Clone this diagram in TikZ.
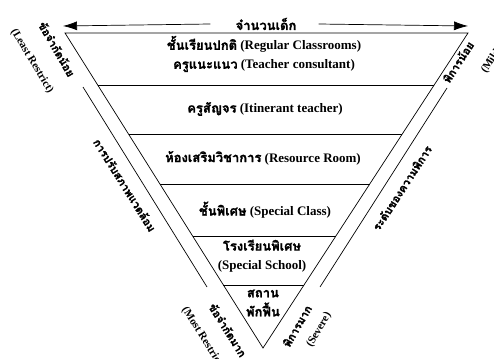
\documentclass[tikz,border=0pt]{standalone}
\usepackage{fontspec}
\setmainfont{Liberation Serif}
\newfontfamily\thaifont[Script=Thai,FakeBold=1.5]{Loma}
\usetikzlibrary{arrows.meta,calc}
\newcommand{\tha}[1]{{\thaifont #1}}

\begin{document}
\begin{tikzpicture}[x=1pt,y=-1pt,
  level/.style={font=\bfseries\fontsize{13}{19}\selectfont, align=center, inner sep=0pt},
  side/.style={font=\bfseries\fontsize{11}{13}\selectfont, inner sep=0pt},
  edge/.style={line width=0.7pt},
  arr/.style={line width=0.7pt, -{Latex[length=14pt,width=9pt]}}]
\useasboundingbox (0,0) rectangle (494,358);
\coordinate (tl) at (65,33);
\coordinate (tr) at (468,33);
\coordinate (ap) at (263,348);
\coordinate (nl) at (63,26);
\coordinate (nr) at (468,26);
\coordinate (ol1) at (83,87);
\coordinate (ol2) at (207,287);
\coordinate (or1) at (447,88);
\coordinate (or2) at (320,287);
\draw[edge] (tl) -- (tr) -- (ap) -- cycle;
\foreach \t in {0.165,0.321,0.479,0.644,0.800}
  \draw[edge] ($(tl)!\t!(ap)$) -- ($(tr)!\t!(ap)$);
\draw[edge] (ol1) -- (ol2);
\draw[edge] (or1) -- (or2);
\node[level] (num) at (266,24) {\tha{จำนวนเด็ก}};
\draw[arr] ([xshift=-25pt]num.west) -- (nl);
\draw[arr] ([xshift=22pt]num.east) -- (nr);
\node[level] (l1) at (264,54) {\tha{ชั้นเรียนปกติ} (Regular Classrooms)\\\tha{ครูแนะแนว} (Teacher consultant)};
\node[level] (l2) at (265,109) {\tha{ครูสัญจร} (Itinerant teacher)};
\node[level] (l3) at (263,158) {\tha{ห้องเสริมวิชาการ} (Resource Room)};
\node[level] (l4) at (265,210) {\tha{ชั้นพิเศษ} (Special Class)};
\node[level] (l5) at (262,256) {\tha{โรงเรียนพิเศษ}\\(Special School)};
\node[level] (l6) at (263,303) {\tha{สถาน}\\\tha{พักฟื้น}};
\node[side, rotate=-60] (lt) at (57,49) {\tha{ข้อจำกัดน้อย}};
\node[side, rotate=-59] (lte) at (32,61) {(Least Restrict)};
\node[side, rotate=57] (rt) at (458,62) {\tha{พิการน้อย}};
\node[side, rotate=57] (rte) at (492,60) {(Mild)};
\node[side, rotate=-58] (lm) at (125,185) {\tha{การปรับสภาพแวดล้อม}};
\node[side, rotate=57] (rm) at (402,188) {\tha{ระดับของความพิการ}};
\node[side, rotate=-58] (lb) at (228,330) {\tha{ข้อจำกัดมาก}};
\node[side, rotate=-58] (lbe) at (203,338) {(Most Restrict)};
\node[side, rotate=60] (rb) at (297,326) {\tha{พิการมาก}};
\node[side, rotate=60] (rbe) at (319,330) {(Severe)};
\end{tikzpicture}
\end{document}
